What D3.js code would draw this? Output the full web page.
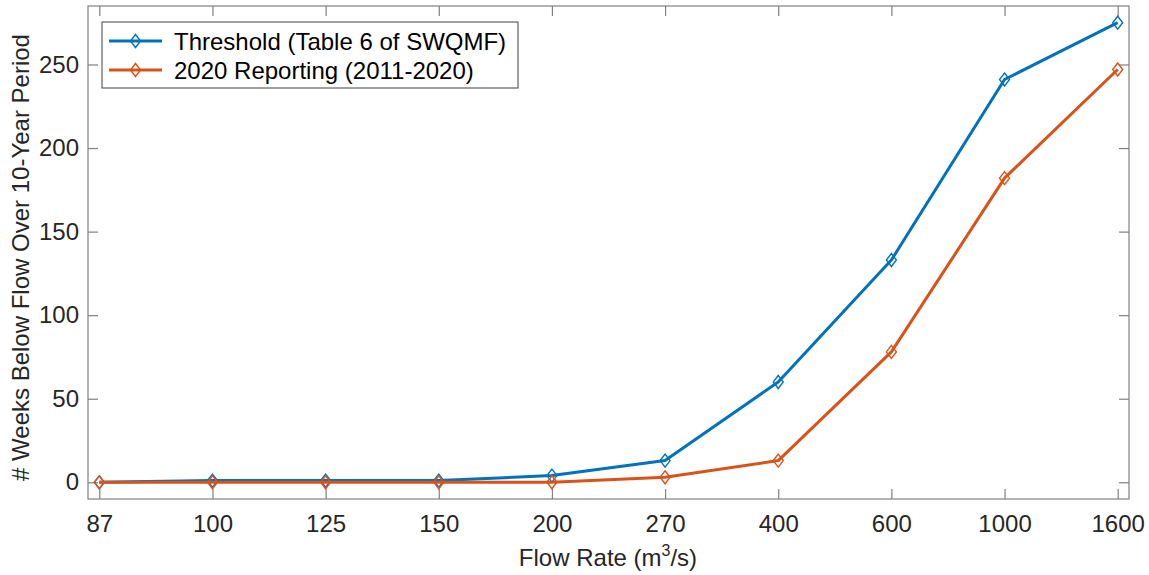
<!DOCTYPE html>
<html>
<head>
<meta charset="utf-8">
<script src="https://cdn.jsdelivr.net/npm/d3@7"></script>
<style>
  html, body { margin: 0; padding: 0; background: #fff; }
  svg { display: block; font-family: "Liberation Sans", Arial, Helvetica, sans-serif; }
</style>
</head>
<body>
<svg id="chart" width="1149" height="575"></svg>
<script>
// Flow-rate categories (m^3/s), plotted at evenly spaced positions
const flowRates = ["87", "100", "125", "150", "200", "270", "400", "600", "1000", "1600"];
// Weeks below each flow over a 10-year period
const thresholdWeeks = [0, 1, 1, 1, 4, 13, 60, 133, 241, 275];
const reporting2020Weeks = [0, 0, 0, 0, 0, 3, 13, 78, 182, 247];
const yTicks = [0, 50, 100, 150, 200, 250];
const seriesNames = ["Threshold (Table 6 of SWQMF)", "2020 Reporting (2011-2020)"];
const seriesColors = ["#0072BD", "#D95319"];

const plot = { left: 88, right: 1129, top: 6, bottom: 499 };
const axisColor = "#808080";
const textColor = "#262626";
const fontSize = 24;

const svg = d3.select("#chart");

const x = d3.scaleLinear().domain([0.9, flowRates.length + 0.1]).range([plot.left, plot.right]);
const y = d3.scaleLinear().domain([-10, 285]).range([plot.bottom, plot.top]);
const idx = d3.range(1, flowRates.length + 1);

// Axes (ticks point inward, mirrored on top and right)
const tickLen = 10;
const bottomAxis = d3.axisBottom(x).tickValues(idx).tickFormat((d) => flowRates[d - 1])
  .tickSizeInner(-tickLen).tickSizeOuter(0).tickPadding(16);
const topAxis = d3.axisTop(x).tickValues(idx).tickFormat("")
  .tickSizeInner(-tickLen).tickSizeOuter(0);
const leftAxis = d3.axisLeft(y).tickValues(yTicks).tickFormat(d3.format("d"))
  .tickSizeInner(-tickLen).tickSizeOuter(0).tickPadding(9);
const rightAxis = d3.axisRight(y).tickValues(yTicks).tickFormat("")
  .tickSizeInner(-tickLen).tickSizeOuter(0);

function styleAxis(g) {
  g.select(".domain").remove();
  g.selectAll(".tick line").attr("stroke", axisColor).attr("stroke-width", 1.2);
  g.selectAll(".tick text").attr("fill", textColor).style("font-size", fontSize + "px")
    .style("font-family", "\"Liberation Sans\", Arial, sans-serif");
}

svg.append("g").attr("transform", `translate(0,${plot.bottom})`).call(bottomAxis).call(styleAxis);
svg.append("g").attr("transform", `translate(0,${plot.top})`).call(topAxis).call(styleAxis);
svg.append("g").attr("transform", `translate(${plot.left},0)`).call(leftAxis).call(styleAxis);
svg.append("g").attr("transform", `translate(${plot.right},0)`).call(rightAxis).call(styleAxis);

// Axes box
svg.append("rect")
  .attr("x", plot.left).attr("y", plot.top)
  .attr("width", plot.right - plot.left).attr("height", plot.bottom - plot.top)
  .attr("fill", "none").attr("stroke", axisColor).attr("stroke-width", 1.2);

// Series lines and hollow diamond markers
const line = d3.line().x((d, i) => x(i + 1)).y((d) => y(d));
const diamond = (cx, cy) => `M${cx},${cy - 6.5}L${cx + 5},${cy}L${cx},${cy + 6.5}L${cx - 5},${cy}Z`;

[thresholdWeeks, reporting2020Weeks].forEach((vals, s) => {
  svg.append("path").datum(vals)
    .attr("d", line).attr("fill", "none")
    .attr("stroke", seriesColors[s]).attr("stroke-width", 3).attr("stroke-linejoin", "round");
  svg.append("g").selectAll("path").data(vals).join("path")
    .attr("d", (d, i) => diamond(x(i + 1), y(d)))
    .attr("fill", "none").attr("stroke", seriesColors[s]).attr("stroke-width", 1.4);
});

// Axis labels
const xl = svg.append("text")
  .attr("x", 608).attr("y", 566)
  .attr("text-anchor", "middle").attr("fill", textColor).style("font-size", fontSize + "px");
xl.append("tspan").text("Flow Rate (m");
xl.append("tspan").text("3").attr("dy", -10).style("font-size", "16px");
xl.append("tspan").text("/s)").attr("dy", 10);

svg.append("text")
  .attr("transform", `translate(29,257.5) rotate(-90)`)
  .attr("text-anchor", "middle").attr("fill", textColor).style("font-size", fontSize + "px")
  .text("# Weeks Below Flow Over 10-Year Period");

// Legend
const legend = svg.append("g");
legend.append("rect")
  .attr("x", 102).attr("y", 22).attr("width", 416).attr("height", 66)
  .attr("fill", "#fff").attr("stroke", "#404040").attr("stroke-width", 1);
seriesNames.forEach((name, s) => {
  const ly = 41 + s * 29;
  legend.append("line").attr("x1", 109).attr("x2", 162).attr("y1", ly).attr("y2", ly)
    .attr("stroke", seriesColors[s]).attr("stroke-width", 3);
  legend.append("path").attr("d", diamond(135.5, ly))
    .attr("fill", "none").attr("stroke", seriesColors[s]).attr("stroke-width", 1.4);
  legend.append("text").attr("x", 174).attr("y", ly).attr("dy", "0.36em")
    .attr("fill", "#000").style("font-size", "24px").text(name);
});
</script>
</body>
</html>
